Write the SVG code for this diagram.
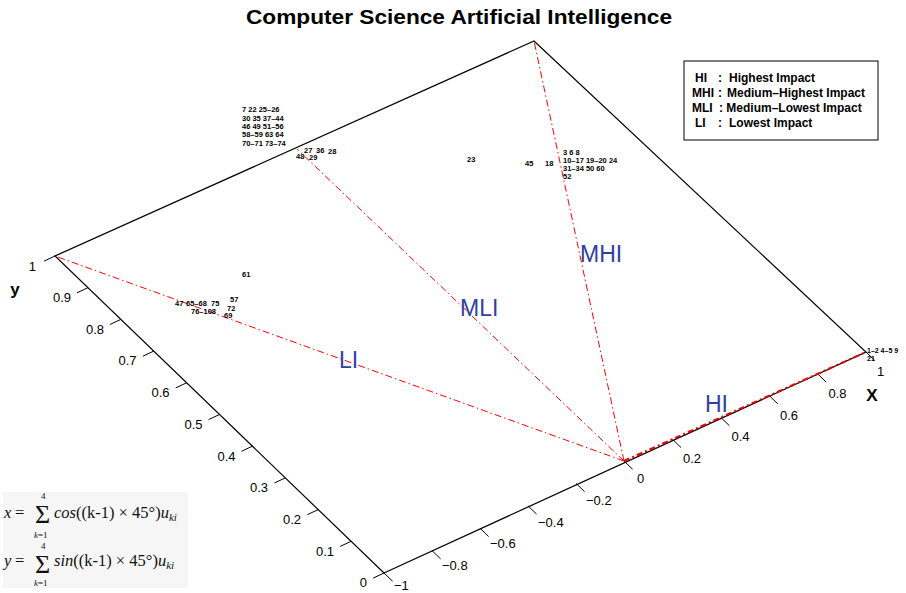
<svg xmlns="http://www.w3.org/2000/svg" width="906" height="593" viewBox="0 0 906 593">
<style>
.ax{stroke:#000;stroke-width:1.2;fill:none}
.tk{stroke:#000;stroke-width:1;fill:none}
.rd{stroke:#f00;stroke-width:1;fill:none;stroke-dasharray:7 3 1.5 3}
.tl{font-family:"Liberation Sans",Arial,sans-serif;font-size:13px;fill:#000}
.bl{font-family:"Liberation Sans",Arial,sans-serif;font-size:23px;fill:#3040a0}
.dl{font-family:"Liberation Sans",Arial,sans-serif;font-size:7.5px;font-weight:bold;fill:#000}
.lg{font-family:"Liberation Sans",Arial,sans-serif;font-size:12px;font-weight:bold;fill:#000}
.fm{font-family:"Liberation Serif","Times New Roman",serif;font-size:16.5px;fill:#111}
.fs{font-family:"Liberation Serif","Times New Roman",serif;font-size:9px;fill:#111}
.sg{font-family:"Liberation Serif","Times New Roman",serif;font-size:26px;fill:#111}
</style>
<rect width="906" height="593" fill="#fff"/>
<text x="459" y="24" text-anchor="middle" textLength="426" lengthAdjust="spacingAndGlyphs" font-family="'Liberation Sans',Arial,sans-serif" font-size="21" font-weight="bold">Computer Science Artificial Intelligence</text>

<g id="frame">
<path class="ax" d="M384,573 L866,352 L534,41 L55,256 Z"/>
</g>

<g id="ticks">
<path class="tk" d="M384,573 l8.6,8.3 M432,550.6 l8.6,8.3 M480,528.2 l8.6,8.3 M528,505.8 l8.6,8.3 M576,483.4 l8.6,8.3 M624,461 l8.6,8.3 M672.4,439.2 l8.6,8.3 M720.8,417.4 l8.6,8.3 M769.2,395.6 l8.6,8.3 M817.6,373.8 l8.6,8.3 M866,352 l8.6,8.3"/>
<path class="tk" d="M384,573 l-10.9,5.1 M351.1,541.3 l-10.9,5.1 M318.2,509.6 l-10.9,5.1 M285.3,477.9 l-10.9,5.1 M252.4,446.2 l-10.9,5.1 M219.5,414.5 l-10.9,5.1 M186.6,382.8 l-10.9,5.1 M153.7,351.1 l-10.9,5.1 M120.8,319.4 l-10.9,5.1 M87.9,287.7 l-10.9,5.1 M55,256 l-10.9,5.1"/>
</g>

<g id="tick-labels" class="tl">
<text x="394" y="590">−1</text>
<text x="442" y="570">−0.8</text>
<text x="490" y="548">−0.6</text>
<text x="538" y="527">−0.4</text>
<text x="586" y="505">−0.2</text>
<text x="637" y="483">0</text>
<text x="683" y="463">0.2</text>
<text x="731.5" y="441">0.4</text>
<text x="780" y="419.5">0.6</text>
<text x="828.5" y="398">0.8</text>
<text x="877" y="376">1</text>
<g text-anchor="end">
<text x="367" y="587">0</text>
<text x="334" y="555.5">0.1</text>
<text x="301" y="524">0.2</text>
<text x="268" y="492">0.3</text>
<text x="235.5" y="460.5">0.4</text>
<text x="202.5" y="428.5">0.5</text>
<text x="169.5" y="397">0.6</text>
<text x="136.5" y="365">0.7</text>
<text x="104" y="333.5">0.8</text>
<text x="71" y="302">0.9</text>
<text x="36" y="271">1</text>
</g>
<text x="872" y="401" text-anchor="middle" font-size="17" font-weight="bold">X</text>
<text x="15" y="295" text-anchor="middle" font-size="17" font-weight="bold">y</text>
</g>

<g id="connectors">
<path class="rd" d="M624,461 L55,256"/>
<path class="rd" d="M624,461 L297,149"/>
<path class="rd" d="M624,461 L534,41"/>
<path d="M624,461 L866,352" fill="none" stroke="#e00" stroke-width="2" stroke-dasharray="6 3 2 3"/>
</g>

<g id="LI"><text class="bl" x="339" y="368">LI</text></g>
<g id="MLI"><text class="bl" x="460" y="316">MLI</text></g>
<g id="MHI"><text class="bl" x="580" y="262">MHI</text></g>
<g id="HI"><text class="bl" x="705" y="412">HI</text></g>

<g id="points-mli" class="dl">
<text x="242" y="112">7 22 25–26</text>
<text x="242" y="120.5">30 35 37–44</text>
<text x="242" y="128.5">46 49 51–56</text>
<text x="242" y="137">58–59 63 64</text>
<text x="242" y="145.5">70–71 73–74</text>
<text x="304" y="153">27</text>
<text x="316" y="153">36</text>
<text x="328" y="154">28</text>
<text x="296" y="159">48</text>
<text x="309" y="160">29</text>
</g>
<g id="points-mhi" class="dl">
<text x="467" y="162">23</text>
<text x="525" y="166">45</text>
<text x="545" y="166">18</text>
<text x="563" y="155">3 6 8</text>
<text x="563" y="163">10–17 19–20 24</text>
<text x="563" y="171">31–34 50 60</text>
<text x="563" y="179">52</text>
</g>
<g id="points-li" class="dl">
<text x="242" y="277">61</text>
<text x="230" y="302">57</text>
<text x="175" y="306">47</text>
<text x="186" y="306">65–68</text>
<text x="211" y="306">75</text>
<text x="227" y="310.5">72</text>
<text x="191" y="314">76–108</text>
<text x="224" y="318">69</text>
</g>
<g id="points-hi" class="dl">
<text x="867" y="353" font-size="7">1–2 4–5 9</text>
<text x="867" y="361" font-size="7">21</text>
</g>

<g id="legend">
<rect x="684" y="61" width="194" height="79" fill="#fff" stroke="#000" stroke-width="1"/>
<text class="lg" x="695" y="82">HI</text><text class="lg" x="718" y="82">:</text><text class="lg" x="729" y="82">Highest Impact</text>
<text class="lg" x="692" y="97">MHI</text><text class="lg" x="718" y="97">:</text><text class="lg" x="727" y="97">Medium–Highest Impact</text>
<text class="lg" x="692" y="112">MLI</text><text class="lg" x="719" y="112">: Medium–Lowest Impact</text>
<text class="lg" x="695" y="127">LI</text><text class="lg" x="718" y="127">:</text><text class="lg" x="729" y="127">Lowest Impact</text>
</g>

<g id="formula">
<rect x="3" y="492" width="185" height="96" fill="#f6f6f6"/>
<text class="fm" x="4" y="518" font-style="italic">x</text>
<text class="fm" x="15" y="518">=</text>
<text class="sg" x="35" y="523">Σ</text>
<text class="fs" x="41" y="499">4</text>
<text class="fs" x="34" y="538"><tspan font-style="italic">k</tspan>=1</text>
<text class="fm" x="54" y="518"><tspan font-style="italic">cos</tspan>((k-1) × 45°)<tspan font-style="italic">u</tspan><tspan font-style="italic" font-size="11" dy="3">ki</tspan></text>
<text class="fm" x="4" y="566" font-style="italic">y</text>
<text class="fm" x="15" y="566">=</text>
<text class="sg" x="35" y="573">Σ</text>
<text class="fs" x="41" y="549">4</text>
<text class="fs" x="34" y="586"><tspan font-style="italic">k</tspan>=1</text>
<text class="fm" x="54" y="566"><tspan font-style="italic">sin</tspan>((k-1) × 45°)<tspan font-style="italic">u</tspan><tspan font-style="italic" font-size="11" dy="3">ki</tspan></text>
</g>
</svg>
